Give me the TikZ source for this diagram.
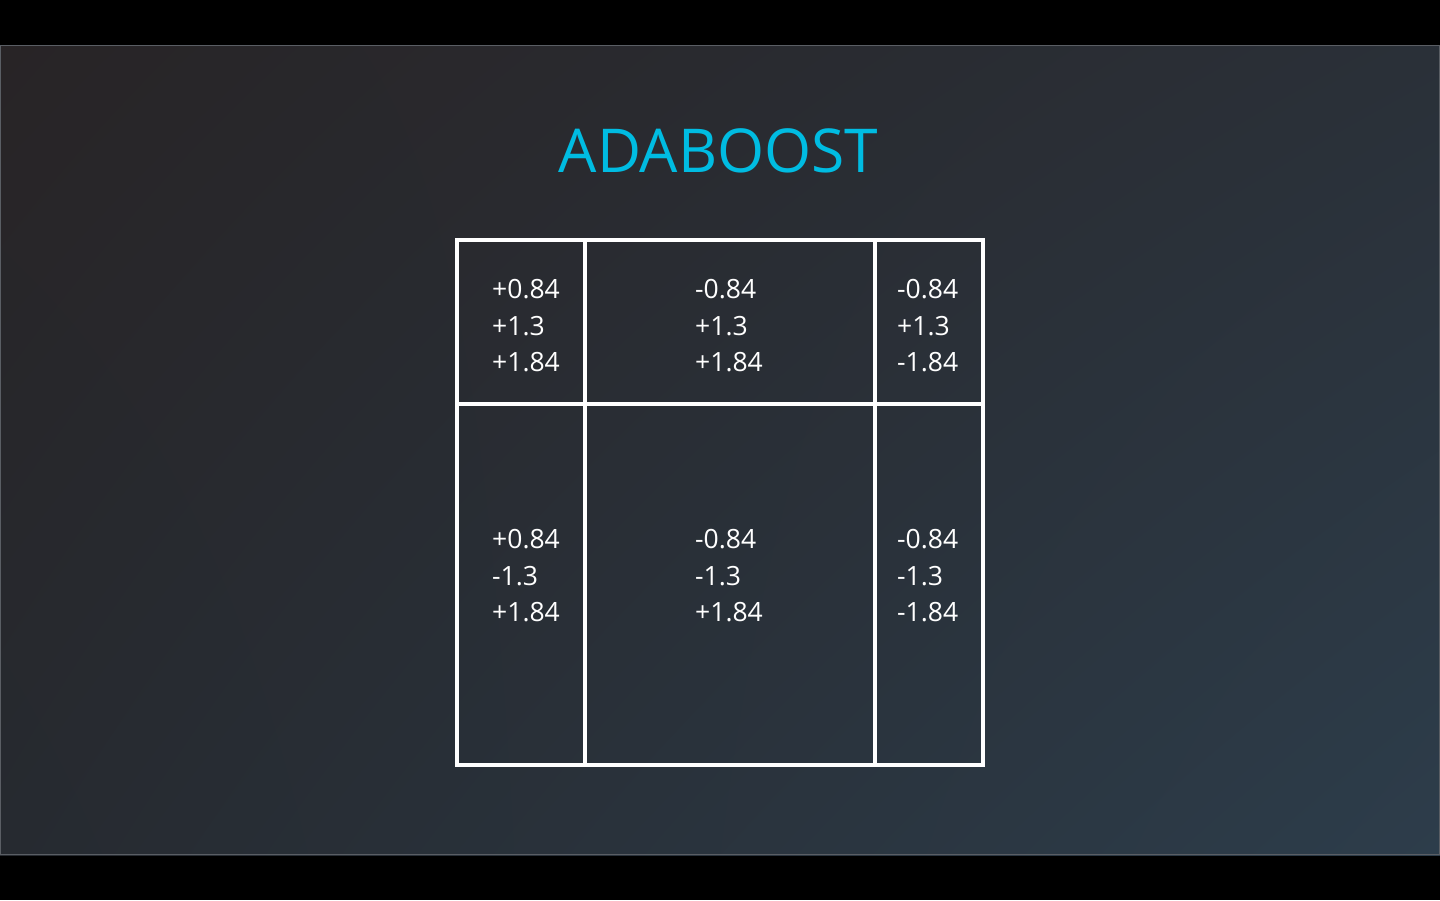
\documentclass[tikz,border=0pt]{standalone}
\usepackage{fontspec}
\setmainfont{Open Sans}
\usetikzlibrary{shadings}
\definecolor{bgTL}{HTML}{282426}
\definecolor{bgTR}{HTML}{2A3038}
\definecolor{bgBL}{HTML}{262A30}
\definecolor{bgBR}{HTML}{2D3D4B}
\definecolor{titlecyan}{HTML}{00BCE2}
\definecolor{framegray}{HTML}{5A5E64}
\tikzset{
  cell/.style={anchor=west, align=left, text=white, inner sep=0pt,
    font=\fontsize{26.5}{36.5}\selectfont},
  gridline/.style={draw=white, line width=4pt},
}
\begin{document}
\begin{tikzpicture}[x=1pt,y=-1pt]
  % page with letterbox bars
  \fill[black] (0,0) rectangle (1440,900);
  \useasboundingbox (0,0) rectangle (1440,900);
  % slide background gradient
  \shade[upper left=bgTL, upper right=bgTR, lower left=bgBL, lower right=bgBR]
    (0,45) rectangle (1440,855);
  \draw[framegray, line width=0.8pt] (0.4,45.4) rectangle (1439.6,854.6);

  % title
  \node[text=titlecyan, font=\fontsize{60.5}{70}\selectfont, anchor=base, inner sep=0pt]
    (title) at (718.5,172) {ADABOOST};

  % table grid
  \draw[gridline] (457,240) rectangle (983,765);
  \draw[gridline] (585,240) -- (585,765);
  \draw[gridline] (875,240) -- (875,765);
  \draw[gridline] (457,404) -- (983,404);

  % top row
  \node[cell] (c11) at (492,326) {+0.84\\+1.3\\+1.84};
  \node[cell] (c12) at (695,326) {-0.84\\+1.3\\+1.84};
  \node[cell] (c13) at (897,326) {-0.84\\+1.3\\-1.84};
  % bottom row
  \node[cell] (c21) at (492,576) {+0.84\\-1.3\\+1.84};
  \node[cell] (c22) at (695,576) {-0.84\\-1.3\\+1.84};
  \node[cell] (c23) at (897,576) {-0.84\\-1.3\\-1.84};
\end{tikzpicture}
\end{document}
